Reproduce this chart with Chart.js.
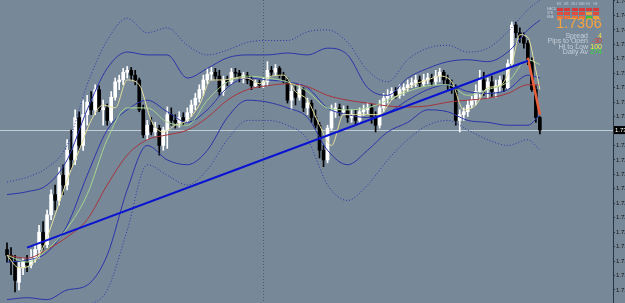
<!DOCTYPE html>
<html>
<head>
<meta charset="utf-8">
<script src="https://cdn.jsdelivr.net/npm/chart.js@4.4.1/dist/chart.umd.min.js"></script>
<style>
body { margin: 0; background: #778899; overflow: hidden; font-family: "Liberation Sans", Arial, sans-serif; }
#wrap { position: relative; width: 625px; height: 303px; }
#chart { position: absolute; left: 0; top: 0; }
.tiny { position: absolute; font-size: 3px; line-height: 3px; color: #c8d0d8; white-space: nowrap; }
#grid { position: absolute; left: 557px; top: 8px; display: grid; grid-template-columns: repeat(6, 6px); grid-auto-rows: 3px; column-gap: 1.3px; row-gap: 0.8px; }
#price { position: absolute; left: 556px; top: 14px; font-size: 15px; line-height: 17px; color: #f5a33e; }
.stat { position: absolute; font-size: 7px; line-height: 6px; white-space: nowrap; }
</style>
</head>
<body>
<div id="wrap">
  <canvas id="chart" width="625" height="303"></canvas>
  <div id="panel"></div>
</div>
<script>
// candle data, one entry per bar (oldest first)
const opens = [1.7182,1.7176,1.7169,1.7148,1.7163,1.7169,1.7166,1.7173,1.7182,1.7200,1.7187,1.7218,1.7239,1.7233,1.7259,1.7249,1.7285,1.7275,1.7319,1.7290,
  1.7322,1.7335,1.7327,1.7348,1.7327,1.7329,1.7316,1.7340,1.7356,1.7358,1.7366,1.7368,1.7363,1.7358,1.7327,1.7301,1.7311,1.7304,1.7308,1.7290,
  1.7306,1.7322,1.7316,1.7314,1.7319,1.7316,1.7324,1.7332,1.7339,1.7348,1.7358,1.7364,1.7366,1.7362,1.7346,1.7358,1.7356,1.7366,1.7365,1.7360,
  1.7363,1.7358,1.7352,1.7355,1.7353,1.7356,1.7368,1.7366,1.7370,1.7363,1.7358,1.7337,1.7346,1.7340,1.7348,1.7329,1.7334,1.7319,1.7311,1.7285,
  1.7275,1.7308,1.7325,1.7329,1.7325,1.7327,1.7319,1.7322,1.7316,1.7325,1.7327,1.7329,1.7319,1.7311,1.7329,1.7339,1.7342,1.7346,1.7342,1.7348,
  1.7350,1.7353,1.7355,1.7358,1.7354,1.7358,1.7360,1.7356,1.7362,1.7366,1.7358,1.7353,1.7350,1.7316,1.7322,1.7325,1.7332,1.7337,1.7346,1.7358,
  1.7348,1.7356,1.7346,1.7352,1.7358,1.7350,1.7375,1.7415,1.7407,1.7402,1.7396,1.7377,1.7348,1.7319];
const highs = [1.7189,1.7184,1.7176,1.7169,1.7173,1.7176,1.7182,1.7187,1.7207,1.7211,1.7223,1.7244,1.7249,1.7267,1.7270,1.7296,1.7306,1.7327,1.7325,1.7337,
  1.7342,1.7346,1.7353,1.7352,1.7337,1.7333,1.7346,1.7360,1.7363,1.7370,1.7372,1.7371,1.7368,1.7360,1.7332,1.7316,1.7319,1.7314,1.7311,1.7309,
  1.7330,1.7329,1.7322,1.7325,1.7324,1.7329,1.7337,1.7344,1.7353,1.7363,1.7370,1.7371,1.7370,1.7368,1.7362,1.7362,1.7370,1.7370,1.7368,1.7366,
  1.7366,1.7362,1.7358,1.7358,1.7360,1.7377,1.7372,1.7374,1.7372,1.7366,1.7360,1.7353,1.7352,1.7354,1.7350,1.7339,1.7337,1.7327,1.7314,1.7290,
  1.7311,1.7332,1.7334,1.7333,1.7331,1.7331,1.7327,1.7327,1.7329,1.7332,1.7334,1.7333,1.7325,1.7337,1.7344,1.7348,1.7350,1.7350,1.7353,1.7354,
  1.7358,1.7360,1.7363,1.7362,1.7364,1.7365,1.7364,1.7368,1.7370,1.7368,1.7363,1.7358,1.7353,1.7327,1.7329,1.7337,1.7341,1.7353,1.7368,1.7366,
  1.7360,1.7362,1.7358,1.7362,1.7363,1.7379,1.7418,1.7418,1.7412,1.7407,1.7399,1.7381,1.7352,1.7320];
const lows = [1.7169,1.7156,1.7138,1.7140,1.7156,1.7159,1.7163,1.7169,1.7173,1.7182,1.7184,1.7213,1.7223,1.7228,1.7239,1.7244,1.7265,1.7270,1.7285,1.7285,
  1.7311,1.7322,1.7322,1.7325,1.7311,1.7311,1.7314,1.7337,1.7348,1.7353,1.7360,1.7358,1.7353,1.7325,1.7298,1.7296,1.7301,1.7300,1.7280,1.7285,
  1.7287,1.7311,1.7308,1.7309,1.7311,1.7314,1.7320,1.7327,1.7335,1.7342,1.7354,1.7358,1.7358,1.7342,1.7342,1.7352,1.7353,1.7360,1.7356,1.7355,
  1.7354,1.7348,1.7350,1.7350,1.7350,1.7352,1.7362,1.7363,1.7360,1.7355,1.7334,1.7327,1.7332,1.7337,1.7325,1.7322,1.7314,1.7308,1.7277,1.7268,
  1.7272,1.7306,1.7319,1.7321,1.7322,1.7314,1.7314,1.7312,1.7313,1.7321,1.7323,1.7313,1.7304,1.7308,1.7325,1.7334,1.7338,1.7339,1.7339,1.7342,
  1.7346,1.7350,1.7351,1.7350,1.7351,1.7354,1.7352,1.7353,1.7356,1.7354,1.7348,1.7344,1.7311,1.7304,1.7316,1.7320,1.7329,1.7332,1.7340,1.7342,
  1.7339,1.7341,1.7340,1.7346,1.7346,1.7348,1.7372,1.7402,1.7397,1.7391,1.7374,1.7346,1.7314,1.7302];
const closes = [1.7176,1.7169,1.7150,1.7163,1.7169,1.7166,1.7173,1.7182,1.7200,1.7187,1.7218,1.7239,1.7233,1.7259,1.7249,1.7285,1.7275,1.7319,1.7290,1.7322,
  1.7335,1.7327,1.7348,1.7327,1.7329,1.7316,1.7340,1.7356,1.7358,1.7366,1.7368,1.7363,1.7358,1.7327,1.7301,1.7311,1.7304,1.7308,1.7290,1.7306,
  1.7322,1.7316,1.7314,1.7319,1.7316,1.7324,1.7332,1.7339,1.7348,1.7358,1.7364,1.7366,1.7362,1.7346,1.7358,1.7356,1.7366,1.7365,1.7360,1.7363,
  1.7358,1.7352,1.7355,1.7353,1.7356,1.7368,1.7366,1.7370,1.7363,1.7358,1.7337,1.7346,1.7340,1.7348,1.7329,1.7334,1.7319,1.7311,1.7285,1.7275,
  1.7308,1.7325,1.7329,1.7325,1.7327,1.7319,1.7322,1.7316,1.7325,1.7327,1.7329,1.7319,1.7311,1.7329,1.7339,1.7342,1.7346,1.7342,1.7348,1.7350,
  1.7353,1.7355,1.7358,1.7354,1.7358,1.7360,1.7356,1.7362,1.7366,1.7358,1.7353,1.7350,1.7316,1.7322,1.7325,1.7332,1.7337,1.7346,1.7358,1.7348,
  1.7356,1.7346,1.7352,1.7358,1.7350,1.7375,1.7415,1.7407,1.7402,1.7396,1.7377,1.7348,1.7319,1.7306];

// indicator lines, read every 5 bars
const bandIdx = [0,5,10,15,20,25,30,35,40,45,50,55,60,65,70,75,80,85,90,95,100,105,110,115,120,125,130,133];
const outerUpper = [1.7252,1.7257,1.7267,1.7290,1.7353,1.7399,1.7422,1.7407,1.7412,1.7394,1.7384,1.7389,1.7397,1.7399,1.7399,1.7408,1.7410,1.7397,1.7368,1.7356,1.7379,1.7391,1.7394,1.7387,1.7391,1.7408,1.7431,1.7441];
const innerUpper = [1.7239,1.7242,1.7249,1.7275,1.7327,1.7370,1.7387,1.7384,1.7384,1.7360,1.7370,1.7381,1.7384,1.7384,1.7386,1.7384,1.7391,1.7384,1.7350,1.7342,1.7360,1.7370,1.7377,1.7379,1.7377,1.7387,1.7410,1.7420];
const middleBand = [1.7169,1.7171,1.7179,1.7207,1.7259,1.7306,1.7327,1.7337,1.7325,1.7314,1.7327,1.7350,1.7360,1.7358,1.7356,1.7350,1.7329,1.7322,1.7319,1.7324,1.7337,1.7348,1.7353,1.7346,1.7344,1.7348,1.7363,1.7360];
const innerLower = [1.7130,1.7132,1.7130,1.7140,1.7145,1.7176,1.7244,1.7290,1.7275,1.7270,1.7285,1.7319,1.7337,1.7335,1.7329,1.7319,1.7285,1.7270,1.7285,1.7304,1.7314,1.7327,1.7325,1.7316,1.7314,1.7311,1.7311,1.7322];
const outerLower = [1.7114,1.7111,1.7114,1.7119,1.7124,1.7140,1.7202,1.7270,1.7259,1.7249,1.7265,1.7296,1.7316,1.7316,1.7311,1.7296,1.7249,1.7233,1.7249,1.7275,1.7296,1.7311,1.7316,1.7306,1.7296,1.7290,1.7296,1.7285];
const greenMa = [1.7176,1.7169,1.7182,1.7204,1.7239,1.7296,1.7329,1.7329,1.7314,1.7311,1.7337,1.7356,1.7362,1.7360,1.7356,1.7346,1.7329,1.7327,1.7329,1.7337,1.7346,1.7352,1.7353,1.7342,1.7348,1.7356,1.7379,1.7374];
const redMa = [1.7176,1.7173,1.7182,1.7195,1.7213,1.7249,1.7280,1.7296,1.7301,1.7306,1.7319,1.7337,1.7348,1.7352,1.7354,1.7351,1.7342,1.7337,1.7334,1.7331,1.7330,1.7331,1.7335,1.7337,1.7339,1.7344,1.7353,1.7353];

// fast MA, read every 3 bars
const yellowIdx = [0,3,6,9,12,15,18,21,24,27,30,33,36,39,42,45,48,51,54,57,60,63,66,69,72,75,78,81,84,87,90,93,96,99,102,105,108,111,114,117,120,123,126,128,130,132,133];
const yellowMa = [1.7176,1.7163,1.7166,1.7184,1.7218,1.7254,1.7285,1.7316,1.7332,1.7329,1.7358,1.7353,1.7316,1.7304,1.7311,1.7316,1.7332,1.7358,1.7358,1.7360,1.7360,1.7354,1.7362,1.7363,1.7346,1.7337,1.7311,1.7290,1.7322,1.7322,1.7322,1.7322,1.7337,1.7346,1.7354,1.7358,1.7362,1.7356,1.7327,1.7332,1.7350,1.7352,1.7374,1.7405,1.7402,1.7368,1.7348];

// drawn objects
const trendIdx = [5, 130];
const trendPrice = [1.7184, 1.7378];
const dropIdx = [130, 133];
const dropPrice = [1.7381, 1.7322];
const separatorIdx = 64;
const lastPrice = 1.7306;

const tickValues = [1.7440,1.7425,1.7410,1.7395,1.7380,1.7365,1.7350,1.7335,1.7320,1.7305,1.7290,1.7275,1.7260,1.7245,1.7230,1.7215,1.7200,1.7185,1.7170,1.7155,1.7140];

// info panel
const tfLabels = ["M1","M5","M15","M30","H1","H4"];
const rowLabels = ["MACD","STR","EMA"];
const signalColors = [
  ["#d83a3a","#d83a3a","#d83a3a","#d83a3a","#d83a3a","#d83a3a"],
  ["#e04c3c","#e04c3c","#e04c3c","#e04c3c","#e8a040","#e04c3c"],
  ["#e8743c","#e8743c","#e8743c","#e8743c","#3cc03c","#e8a040"]
];
const statLabels = ["Spread","Pips to Open","Hi to Low","Daily Av"];
const statValues = ["4","-30","100","274"];
const statColors = ["#f0e040","#e04030","#f0f040","#30e030"];

function buildPanel() {
  const panel = document.getElementById("panel");
  tfLabels.forEach((t, c) => {
    const d = document.createElement("div");
    d.className = "tiny";
    d.style.left = (557 + c * 7.3) + "px";
    d.style.top = "3px";
    d.textContent = t;
    panel.appendChild(d);
  });
  rowLabels.forEach((t, r) => {
    const d = document.createElement("div");
    d.className = "tiny";
    d.style.left = "547px";
    d.style.top = (8 + r * 3.8) + "px";
    d.textContent = t;
    panel.appendChild(d);
  });
  const grid = document.createElement("div");
  grid.id = "grid";
  signalColors.forEach(row => row.forEach(col => {
    const cell = document.createElement("div");
    cell.style.background = col;
    grid.appendChild(cell);
  }));
  panel.appendChild(grid);
  const p = document.createElement("div");
  p.id = "price";
  p.textContent = lastPrice.toFixed(4);
  panel.appendChild(p);
  statLabels.forEach((t, k) => {
    const l = document.createElement("div");
    l.className = "stat";
    l.style.right = (625 - 588) + "px";
    l.style.top = (33 + k * 5.4) + "px";
    l.style.color = "#c8d0d8";
    l.textContent = t;
    panel.appendChild(l);
    const v = document.createElement("div");
    v.className = "stat";
    v.style.right = (625 - 602) + "px";
    v.style.top = (33 + k * 5.4) + "px";
    v.style.color = statColors[k];
    v.textContent = statValues[k];
    panel.appendChild(v);
  });
}
buildPanel();

const pts = (xs, ys) => xs.map((x, k) => ({ x: x, y: ys[k] }));
const isBull = i => closes[i] >= opens[i];
const bodies = opens.map((o, i) => ({ x: i, y: [o, closes[i]] }));
const wicks = opens.map((o, i) => ({ x: i, y: [lows[i], highs[i]] }));

const bandBlue = "#2b35a8";

function lineSet(data, color, width, dash, order) {
  return {
    type: "line", data: data, borderColor: color, borderWidth: width,
    borderDash: dash || [], pointRadius: 0, tension: 0.35,
    cubicInterpolationMode: "monotone", fill: false, order: order
  };
}

const overlay = {
  id: "overlay",
  beforeDatasetsDraw(chart) {
    const { ctx, chartArea, scales } = chart;
    const x = Math.round(scales.x.getPixelForValue(separatorIdx)) + 0.5;
    ctx.save();
    ctx.strokeStyle = "#505c68";
    ctx.lineWidth = 1;
    ctx.setLineDash([1, 2]);
    ctx.beginPath();
    ctx.moveTo(x, chartArea.top);
    ctx.lineTo(x, chartArea.bottom);
    ctx.stroke();
    ctx.setLineDash([]);
    const y = Math.round(scales.y.getPixelForValue(lastPrice)) + 0.5;
    ctx.strokeStyle = "#c4ccd4";
    ctx.beginPath();
    ctx.moveTo(chartArea.left, y);
    ctx.lineTo(chartArea.right, y);
    ctx.stroke();
    ctx.restore();
  },
  afterDraw(chart) {
    const { ctx, chartArea, scales } = chart;
    const y = scales.y.getPixelForValue(lastPrice);
    ctx.save();
    ctx.fillStyle = "#000000";
    ctx.fillRect(chartArea.right + 1, y - 4, 14, 8);
    ctx.fillStyle = "#ffffff";
    ctx.font = "6px 'Liberation Sans'";
    ctx.textBaseline = "middle";
    ctx.fillText(lastPrice.toFixed(4), chartArea.right + 2, y);
    ctx.restore();
  }
};

new Chart(document.getElementById("chart"), {
  type: "bar",
  data: {
    datasets: [
      lineSet(pts(trendIdx, trendPrice), "#0a14d0", 2, null, -2),
      lineSet(pts(dropIdx, dropPrice), "#e8603c", 2.5, null, -1),
      lineSet(pts(yellowIdx, yellowMa), "#e6e09c", 1, null, 0),
      lineSet(pts(bandIdx, greenMa), "#a6d690", 1, null, 0),
      lineSet(pts(bandIdx, redMa), "#a8343a", 1, null, 0),
      lineSet(pts(bandIdx, middleBand), bandBlue, 1, null, 0),
      lineSet(pts(bandIdx, innerUpper), bandBlue, 1, null, 0),
      lineSet(pts(bandIdx, innerLower), bandBlue, 1, null, 0),
      lineSet(pts(bandIdx, outerUpper), bandBlue, 1, [1, 2], 0),
      lineSet(pts(bandIdx, outerLower), bandBlue, 1, [1, 2], 0),
      {
        type: "bar", data: bodies, barThickness: 3, grouped: false, order: 1,
        backgroundColor: c => isBull(c.dataIndex) ? "#ffffff" : "#000000"
      },
      {
        type: "bar", data: wicks, barThickness: 1, grouped: false, order: 2,
        backgroundColor: c => isBull(c.dataIndex) ? "#ffffff" : "#000000"
      }
    ]
  },
  options: {
    responsive: false,
    animation: false,
    events: [],
    layout: { padding: 0 },
    plugins: { legend: { display: false }, tooltip: { enabled: false } },
    scales: {
      x: { type: "linear", display: false, min: -1.75, max: 151.25, offset: false },
      y: {
        position: "right",
        min: 1.71265,
        max: 1.74410,
        afterBuildTicks: s => { s.ticks = tickValues.map(v => ({ value: v })); },
        afterFit: s => { s.width = 12; s.paddingTop = 0; s.paddingBottom = 0; },
        grid: { drawOnChartArea: false, tickLength: 2, color: "#2a3440" },
        border: { color: "#2a3440" },
        ticks: {
          autoSkip: false, padding: 1, color: "#141414",
          font: { size: 6, family: "Liberation Sans" },
          callback: v => v.toFixed(4)
        }
      }
    }
  },
  plugins: [overlay]
});
</script>
</body>
</html>
